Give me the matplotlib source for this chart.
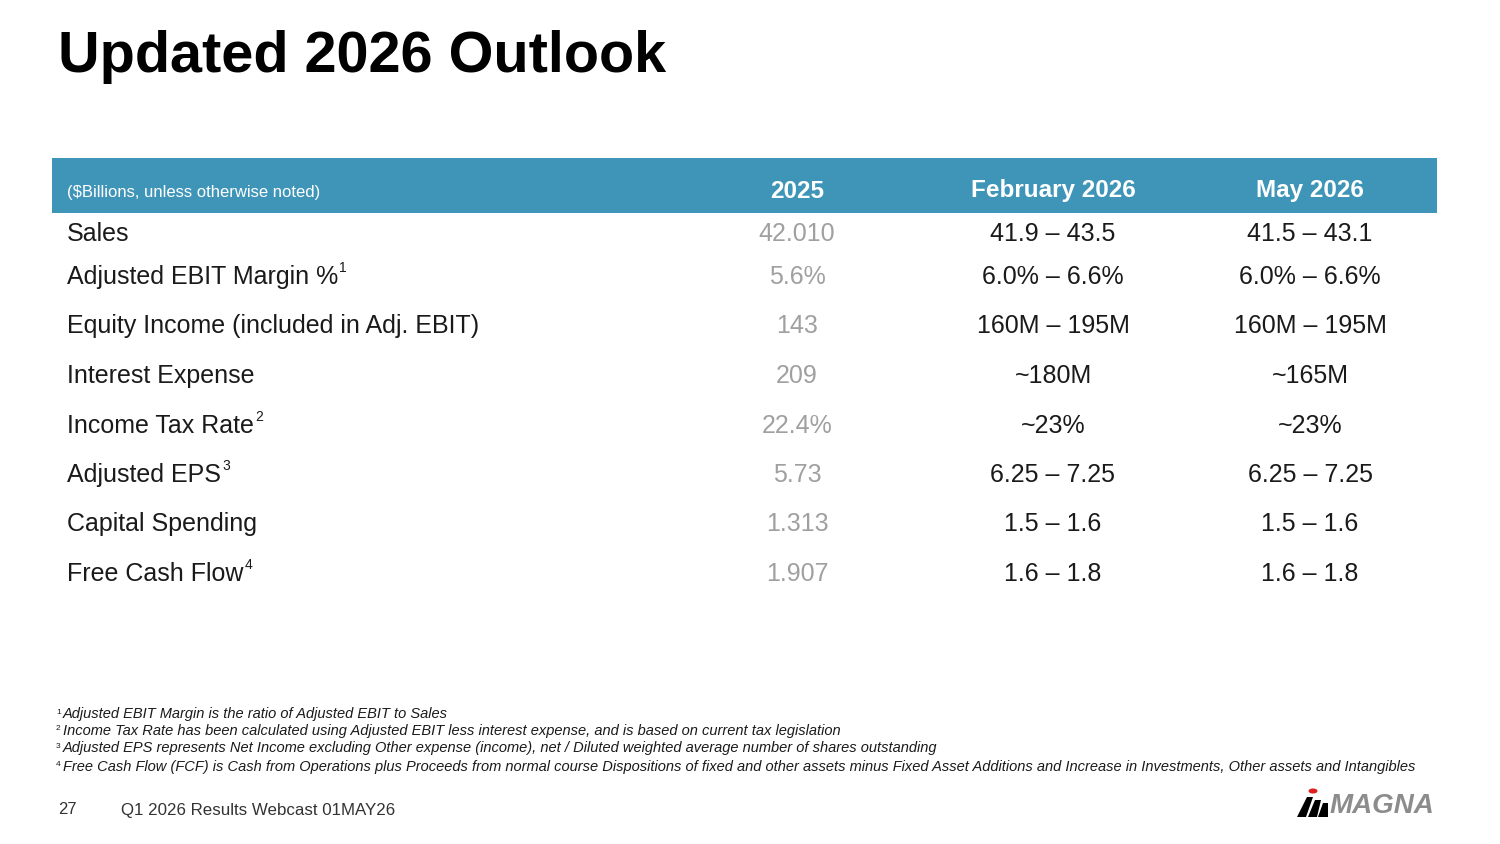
import matplotlib.pyplot as plt
from matplotlib.patches import Rectangle, Polygon, Circle

W, H = 1500, 844
fig = plt.figure(figsize=(15, 8.44), dpi=100)
fig.patch.set_facecolor('white')

def fx(x):
    return x / W

def fy(y):
    return 1 - y / H

def txt(x, y, s, **kw):
    kw.setdefault('family', 'Liberation Sans')
    return fig.text(fx(x), fy(y), s, va='center', **kw)

# title
txt(58, 57, "Updated 2026 Outlook", fontsize=41.5, fontweight='heavy')

# header band
fig.patches.append(Rectangle((fx(52), fy(213)), fx(1437) - fx(52), fy(158) - fy(213),
                             transform=fig.transFigure, facecolor='#3f95b8', edgecolor='none'))
txt(67, 193, "($Billions, unless otherwise noted)", fontsize=12, color='white')
cols = [797, 1053, 1310]
for x, h in zip(cols, ["2025", "February 2026", "May 2026"]):
    txt(x, 191, h, fontsize=17.5, fontweight='bold', color='white', ha='center')

# label, superscript, 2025, Feb 2026, May 2026, row y
rows = [
    ("Sales", "", "42.010", "41.9 \u2013 43.5", "41.5 \u2013 43.1", 234),
    ("Adjusted EBIT Margin %", "1", "5.6%", "6.0% \u2013 6.6%", "6.0% \u2013 6.6%", 277),
    ("Equity Income (included in Adj. EBIT)", "", "143", "160M \u2013 195M", "160M \u2013 195M", 326),
    ("Interest Expense", "", "209", "~180M", "~165M", 376),
    ("Income Tax Rate", "2", "22.4%", "~23%", "~23%", 426),
    ("Adjusted EPS", "3", "5.73", "6.25 \u2013 7.25", "6.25 \u2013 7.25", 475),
    ("Capital Spending", "", "1.313", "1.5 \u2013 1.6", "1.5 \u2013 1.6", 524),
    ("Free Cash Flow", "4", "1.907", "1.6 \u2013 1.8", "1.6 \u2013 1.8", 574),
]
fig.canvas.draw()
r = fig.canvas.get_renderer()
for label, sup, v25, feb, may, y in rows:
    t = txt(67, y, label, fontsize=18, color='#1a1a1a')
    if sup:
        bb = t.get_window_extent(r)
        fig.text(fx(bb.x1 + 1), fy(y - 9), sup, va='center', fontsize=10,
                 color='#1a1a1a', family='Liberation Sans')
    txt(cols[0], y, v25, fontsize=18, color='#a0a0a0', ha='center')
    txt(cols[1], y, feb, fontsize=18, color='#1a1a1a', ha='center')
    txt(cols[2], y, may, fontsize=18, color='#1a1a1a', ha='center')

notes = [
    ("1", "Adjusted EBIT Margin is the ratio of Adjusted EBIT to Sales", 714),
    ("2", "Income Tax Rate has been calculated using Adjusted EBIT less interest expense, and is based on current tax legislation", 731),
    ("3", "Adjusted EPS represents Net Income excluding Other expense (income), net / Diluted weighted average number of shares outstanding", 748),
    ("4", "Free Cash Flow (FCF) is Cash from Operations plus Proceeds from normal course Dispositions of fixed and other assets minus Fixed Asset Additions and Increase in Investments, Other assets and Intangibles", 767),
]
for n, s, y in notes:
    txt(56, y - 2, n, fontsize=6, color='#1a1a1a')
    txt(63, y, s, fontsize=10.5, style='italic', color='#1a1a1a')

txt(58, 810, "27", fontsize=12, color='#333333')
txt(121, 810, "Q1 2026 Results Webcast 01MAY26", fontsize=12.2, color='#333333')

# logo
for pts in [[(1297, 817), (1307, 797), (1313, 797), (1306, 817)],
            [(1308, 817), (1315, 800), (1321, 800), (1317, 817)],
            [(1318, 817), (1323, 803), (1328, 803), (1328, 817)]]:
    fig.patches.append(Polygon([(fx(a), fy(b)) for a, b in pts], closed=True,
                               transform=fig.transFigure, facecolor='black'))
fig.patches.append(Circle((fx(1313), fy(791)), 0.0030, transform=fig.transFigure, facecolor='#e02020'))
txt(1330, 806, "MAGNA", fontsize=20, fontweight='heavy', style='italic', color='#8c8c8c')

fig.savefig("out.png", dpi=100)
